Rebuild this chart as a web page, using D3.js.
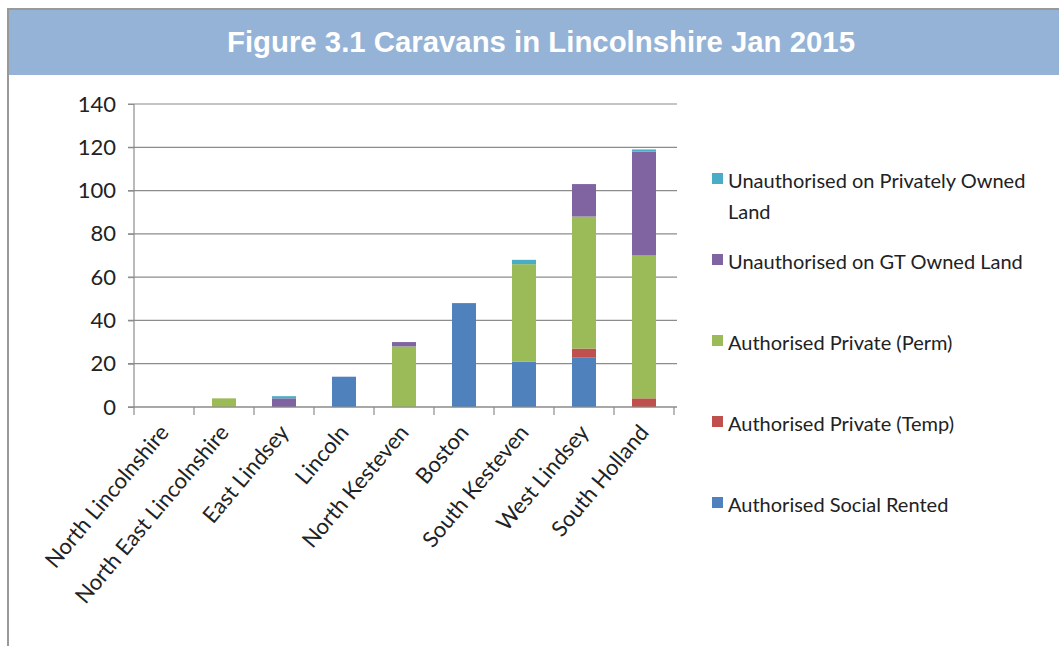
<!DOCTYPE html>
<html><head><meta charset="utf-8">
<script src="https://cdn.jsdelivr.net/npm/d3@7"></script>
<style>body{margin:0;background:#fff;} svg{display:block;}</style>
</head><body>
<svg id="chart" width="1059" height="646"></svg>
<script>
const categories = ["North Lincolnshire","North East Lincolnshire","East Lindsey","Lincoln","North Kesteven","Boston","South Kesteven","West Lindsey","South Holland"];
const seriesNames = ["Authorised Social Rented","Authorised Private (Temp)","Authorised Private (Perm)","Unauthorised on GT Owned Land","Unauthorised on Privately Owned Land"];
const socialRented  = [0, 0, 0, 14, 0, 48, 21, 23, 0];
const privateTemp   = [0, 0, 0, 0, 0, 0, 0, 4, 4];
const privatePerm   = [0, 4, 0, 0, 28, 0, 45, 61, 66];
const unauthGT      = [0, 0, 4, 0, 2, 0, 0, 15, 48];
const unauthPrivate = [0, 0, 1, 0, 0, 0, 2, 0, 1];
const yTicks = [0, 20, 40, 60, 80, 100, 120, 140];
const colors = ["#4F81BD","#C0504D","#9BBB59","#8064A2","#4BACC6"];

const seriesValues = [socialRented, privateTemp, privatePerm, unauthGT, unauthPrivate];
const rows = categories.map((c, i) => {
  const r = {cat: c};
  seriesNames.forEach((s, j) => r[s] = seriesValues[j][i]);
  return r;
});

const svg = d3.select("#chart");
svg.append("rect").attr("x", 0).attr("y", 0).attr("width", 1059).attr("height", 646).attr("fill", "#fff");
svg.append("rect").attr("x", 9).attr("y", 10).attr("width", 1050).attr("height", 65).attr("fill", "#95B3D7");
svg.append("rect").attr("x", 7).attr("y", 8).attr("width", 1052).attr("height", 2).attr("fill", "#999");
svg.append("rect").attr("x", 7).attr("y", 8).attr("width", 2).attr("height", 638).attr("fill", "#999");
svg.append("text").attr("x", 541).attr("y", 52).attr("text-anchor", "middle")
  .attr("font-family", "Liberation Sans, Arial, sans-serif").attr("font-weight", "bold")
  .attr("font-size", 29).attr("fill", "#fff")
  .attr("textLength", 628).attr("lengthAdjust", "spacingAndGlyphs")
  .text("Figure 3.1 Caravans in Lincolnshire Jan 2015");

const x0 = 134, x1 = 674, yTop = 104, yBot = 407;
const x = d3.scaleBand().domain(categories).range([x0, x1]).paddingInner(0.6).paddingOuter(0.3);
const y = d3.scaleLinear().domain([0, 140]).range([yBot, yTop]);

const font = "Lato, 'Open Sans', sans-serif";

svg.append("g").selectAll("line").data(yTicks).join("line")
  .attr("x1", x0 - 6).attr("x2", 677).attr("y1", d => y(d)).attr("y2", d => y(d))
  .attr("stroke", "#8c8c8c").attr("stroke-width", 1.2);

const stack = d3.stack().keys(seriesNames)(rows);
svg.append("g").selectAll("g").data(stack).join("g")
  .attr("fill", (d, i) => colors[i])
  .selectAll("rect").data(d => d).join("rect")
  .attr("x", d => x(d.data.cat)).attr("width", x.bandwidth())
  .attr("y", d => y(d[1])).attr("height", d => Math.max(0, y(d[0]) - y(d[1])));

const yAxis = d3.axisLeft(y).tickValues(yTicks).tickSize(6).tickPadding(12);
const gy = svg.append("g").attr("transform", `translate(${x0},0)`).call(yAxis);
gy.select(".domain").attr("stroke", "#8c8c8c").attr("stroke-width", 1.2).attr("d", `M0,${yTop}V${yBot}`);
gy.selectAll(".tick line").attr("stroke", "#8c8c8c");
gy.selectAll("text").attr("font-family", font).attr("font-size", 22).attr("fill", "#222");

const gx = svg.append("g").attr("transform", `translate(0,${yBot})`)
  .call(d3.axisBottom(x).tickSize(0).tickFormat(""));
gx.select(".domain").attr("stroke", "#8c8c8c").attr("stroke-width", 1.2).attr("d", `M${x0 - 6},0H${677}`);
const bounds = d3.range(categories.length + 1).map(i => x0 + i * (x1 - x0) / categories.length);
svg.append("g").selectAll("line").data(bounds).join("line")
  .attr("x1", d => d).attr("x2", d => d).attr("y1", yBot).attr("y2", yBot + 8)
  .attr("stroke", "#8c8c8c").attr("stroke-width", 1.2);
svg.append("g").selectAll("text").data(categories).join("text")
  .attr("transform", d => `translate(${x(d) + x.bandwidth() / 2 + 6},${yBot + 26}) rotate(-50)`)
  .attr("text-anchor", "end").attr("font-family", font).attr("font-size", 22).attr("fill", "#222")
  .text(d => d);

const legendItems = seriesNames.map((s, i) => ({name: s, color: colors[i]})).reverse();
const legendY = [181, 262, 343, 424, 505];
const lg = svg.append("g");
legendItems.forEach((d, i) => {
  lg.append("rect").attr("x", 712).attr("y", legendY[i] - 8).attr("width", 11).attr("height", 11).attr("fill", d.color);
  const t = lg.append("text").attr("x", 728).attr("y", legendY[i] + 7).attr("font-family", font)
    .attr("font-size", 20).attr("fill", "#222");
  if (d.name === "Unauthorised on Privately Owned Land") {
    t.append("tspan").attr("x", 728).text("Unauthorised on Privately Owned");
    t.append("tspan").attr("x", 728).attr("dy", 31).text("Land");
  } else {
    t.text(d.name);
  }
});
</script>
</body></html>
